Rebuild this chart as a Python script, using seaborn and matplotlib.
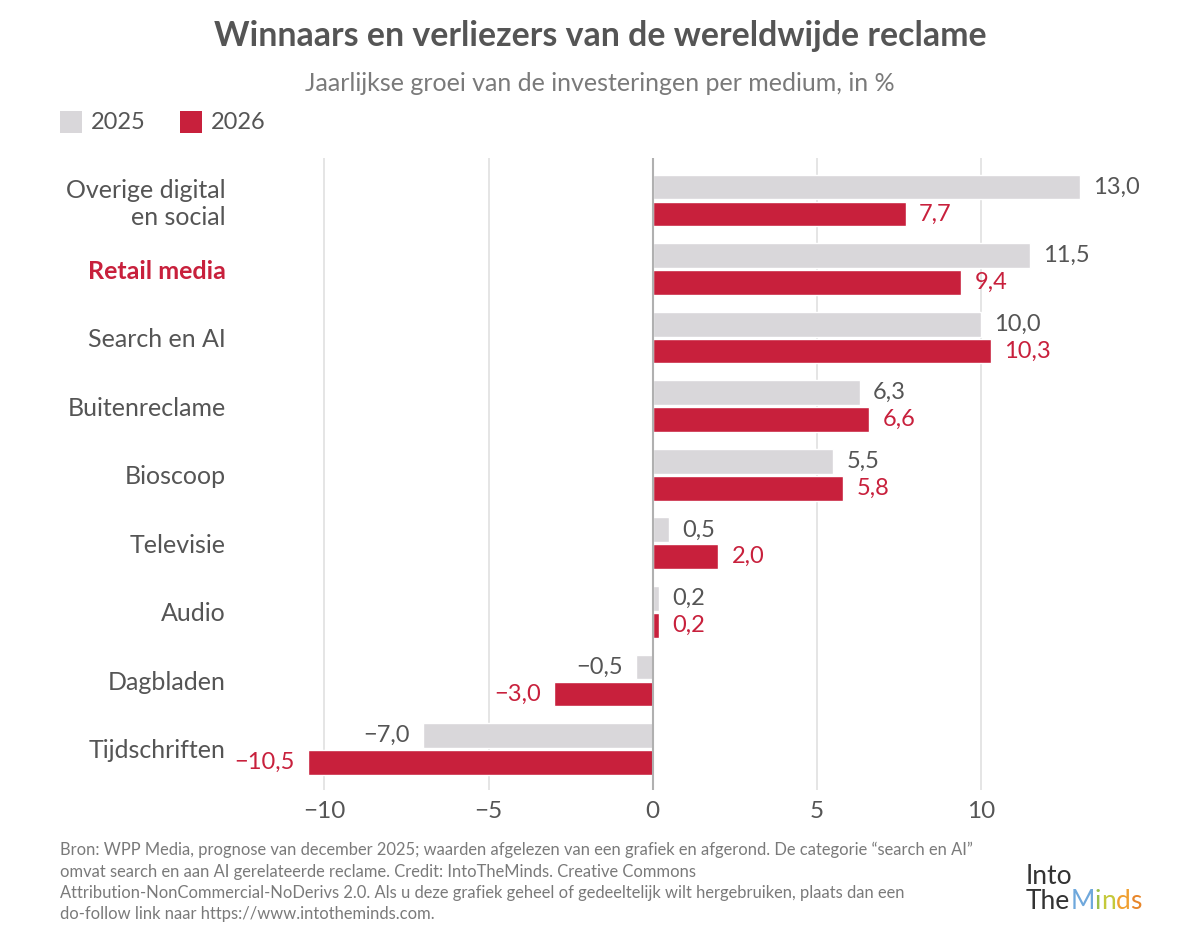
import seaborn as sns
import matplotlib.pyplot as plt
import pandas as pd

# categorieen en waarden (jaarlijkse groei in %)
CATEGORIES = ['Overige digital\nen social', 'Retail media', 'Search en AI', 'Buitenreclame',
              'Bioscoop', 'Televisie', 'Audio', 'Dagbladen', 'Tijdschriften']
GROWTH_2025 = [13.0, 11.5, 10.0, 6.3, 5.5, 0.5, 0.2, -0.5, -7.0]
GROWTH_2026 = [7.7, 9.4, 10.3, 6.6, 5.8, 2.0, 0.2, -3.0, -10.5]
YEARS = ['2025', '2026']
X_TICKS = [-10, -5, 0, 5, 10]

GREY = '#d9d7da'
RED = '#c8203c'
TEXT = '#555555'
LIGHT_TEXT = '#7a7a7a'
LOGO_COLORS = ['#6fa8dc', '#9bbf4a', '#c5c93a', '#f0a030', '#e8862a']


def fmt(v):
    # komma als decimaalteken en echt minteken
    return f'{v:.1f}'.replace('.', ',').replace('-', '\u2212')


df = pd.DataFrame({
    'categorie': CATEGORIES * 2,
    'groei': GROWTH_2025 + GROWTH_2026,
    'jaar': [YEARS[0]] * len(CATEGORIES) + [YEARS[1]] * len(CATEGORIES),
})

sns.set_style('white')
plt.rcParams['font.family'] = ['Lato', 'DejaVu Sans']

fig = plt.figure(figsize=(12, 9.44), dpi=100)
ax = fig.add_axes([0.202, 0.163, 0.766, 0.67])

sns.barplot(data=df, x='groei', y='categorie', hue='jaar', order=CATEGORIES,
            palette={YEARS[0]: GREY, YEARS[1]: RED}, width=0.785, gap=0.08,
            orient='h', legend=False, ax=ax, saturation=1)

ax.set_xlim(-12.5, 15.5)
ax.set_ylim(8.6, -0.625)
ax.set_xticks(X_TICKS)
ax.set_xticklabels([str(t).replace('-', '\u2212') for t in X_TICKS])
ax.grid(axis='x', color='#e3e3e3', linewidth=1.3)
ax.set_axisbelow(True)
ax.axvline(0, color='#b0b0b0', linewidth=1.5, zorder=3)
sns.despine(ax=ax, left=True, bottom=True, top=True, right=True)
ax.set_xlabel('')
ax.set_ylabel('')
ax.tick_params(axis='both', length=0, labelsize=17.5, colors=TEXT, pad=8)
ax.tick_params(axis='y', labelsize=18, pad=12)
for lbl in ax.get_yticklabels():
    if lbl.get_text() == 'Retail media':
        lbl.set_color(RED)
        lbl.set_fontweight('bold')

# waardelabels naast elke balk
for cont, col in zip(ax.containers, [TEXT, RED]):
    for bar in cont:
        v = bar.get_width()
        y = bar.get_y() + bar.get_height() / 2
        if v >= 0:
            ax.text(v + 0.4, y, fmt(v), ha='left', va='center', fontsize=17, color=col)
        else:
            ax.text(v - 0.4, y, fmt(v), ha='right', va='center', fontsize=17, color=col)

fig.text(0.5, 0.962, 'Winnaars en verliezers van de wereldwijde reclame', ha='center', va='center',
         fontsize=24.4, fontweight='bold', color=TEXT)
fig.text(0.5, 0.912, 'Jaarlijkse groei van de investeringen per medium, in %', ha='center', va='center',
         fontsize=18, color=LIGHT_TEXT)

# legenda bovenaan
for x, year, col in [(0.05, YEARS[0], GREY), (0.15, YEARS[1], RED)]:
    fig.patches.append(plt.Rectangle((x, 0.859), 0.018, 0.023, transform=fig.transFigure,
                                     facecolor=col, edgecolor='none'))
    fig.text(x + 0.026, 0.8705, year, ha='left', va='center', fontsize=17, color=TEXT)

footer = ('Bron: WPP Media, prognose van december 2025; waarden afgelezen van een grafiek en afgerond. '
          'De categorie \u201csearch en AI\u201d\n'
          'omvat search en aan AI gerelateerde reclame. Credit: IntoTheMinds. Creative Commons\n'
          'Attribution-NonCommercial-NoDerivs 2.0. Als u deze grafiek geheel of gedeeltelijk wilt '
          'hergebruiken, plaats dan een\n'
          'do-follow link naar https://www.intotheminds.com.')
fig.text(0.05, 0.108, footer, ha='left', va='top', fontsize=11.9, color=LIGHT_TEXT, linespacing=1.4)

# logo als tekst, letters van "Minds" in kleur
fig.text(0.855, 0.072, 'Into', ha='left', va='center', fontsize=19, color='#333333')
prev = fig.text(0.855, 0.045, 'The', ha='left', va='center', fontsize=19, color='#333333')
for letter, col in zip('Minds', LOGO_COLORS):
    prev = fig.add_artist(plt.Annotation(letter, xy=(1, 0), xycoords=prev, va='bottom', ha='left',
                                         fontsize=19, color=col))

fig.savefig('out.png', dpi=100, facecolor='white')
